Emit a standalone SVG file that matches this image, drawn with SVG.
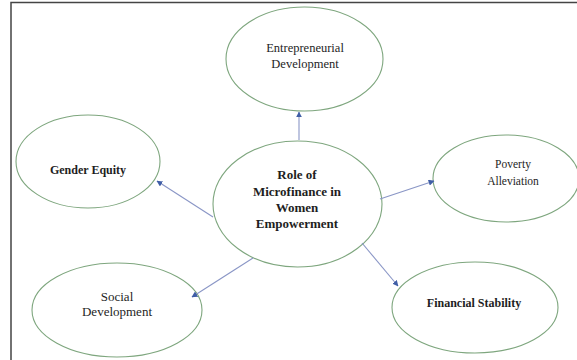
<svg xmlns="http://www.w3.org/2000/svg" width="577" height="360" viewBox="0 0 577 360">
  <style>
    .node ellipse { fill: #ffffff; stroke: #7ea67e; stroke-width: 1.1; }
    .lbl { font-family: "Liberation Serif", "Times New Roman", serif; fill: #1e1e1e; text-anchor: middle; }
    .b { font-weight: bold; }
    .conn line { stroke: #8a96c6; stroke-width: 1.1; marker-end: url(#arrow); }
  </style>
  <defs>
    <marker id="arrow" viewBox="0 0 10 10" refX="9" refY="5" markerWidth="6" markerHeight="6" markerUnits="userSpaceOnUse" orient="auto">
      <path d="M0,0 L10,5 L0,10 Z" fill="#3f5ea6"/>
    </marker>
  </defs>

  <rect width="577" height="360" fill="#ffffff"/>
  <!-- frame -->
  <path d="M11,360 V2.5 H577" fill="none" stroke="#444" stroke-width="1.5"/>

  <g id="entrepreneurial" class="node">
    <ellipse cx="304.5" cy="59" rx="78.5" ry="52"/>
    <text class="lbl" x="305" y="52" font-size="12.5">Entrepreneurial</text>
    <text class="lbl" x="305" y="68" font-size="12.5">Development</text>
  </g>

  <g id="gender" class="node">
    <ellipse cx="88" cy="161.5" rx="72" ry="46.5"/>
    <text class="lbl b" x="88" y="174" font-size="12" fill="#333">Gender Equity</text>
  </g>

  <g id="center" class="node">
    <ellipse cx="297.5" cy="204" rx="84.5" ry="63"/>
    <text class="lbl b" x="297" y="179" font-size="13">Role of</text>
    <text class="lbl b" x="297" y="196" font-size="13">Microfinance in</text>
    <text class="lbl b" x="297" y="212" font-size="13">Women</text>
    <text class="lbl b" x="297" y="228" font-size="13">Empowerment</text>
  </g>

  <g id="poverty" class="node">
    <ellipse cx="506" cy="178.5" rx="73" ry="43.5"/>
    <text class="lbl" x="513" y="168" font-size="11.5">Poverty</text>
    <text class="lbl" x="513" y="185" font-size="11.5">Alleviation</text>
  </g>

  <g id="social" class="node">
    <ellipse cx="117" cy="310" rx="85" ry="47"/>
    <text class="lbl" x="117" y="301" font-size="13">Social</text>
    <text class="lbl" x="117" y="316" font-size="13">Development</text>
  </g>

  <g id="financial" class="node">
    <ellipse cx="475" cy="307.5" rx="83" ry="45.5"/>
    <text class="lbl b" x="474" y="307" font-size="12" fill="#333">Financial Stability</text>
  </g>

  <!-- connectors drawn last so the arrowheads sit on the ellipse rims -->
  <g id="connectors" class="conn">
    <line x1="299" y1="140" x2="299" y2="112"/>
    <line x1="213" y1="217" x2="157" y2="181"/>
    <line x1="380" y1="199" x2="434" y2="181"/>
    <line x1="253" y1="258" x2="192" y2="297"/>
    <line x1="362" y1="243" x2="398" y2="286"/>
  </g>
</svg>
